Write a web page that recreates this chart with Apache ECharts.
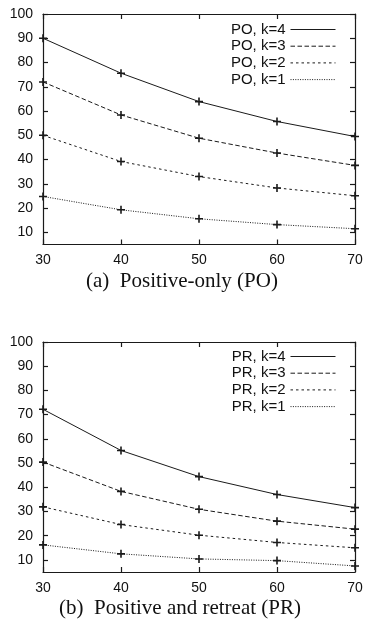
<!DOCTYPE html>
<html>
<head>
<meta charset="utf-8">
<script src="https://cdn.jsdelivr.net/npm/echarts@6/dist/echarts.min.js"></script>
<style>html,body{margin:0;padding:0;background:#fff;}#c{width:368px;height:624px;}</style>
</head>
<body>
<div id="c"></div>
<script>
const xValues = [30, 40, 50, 60, 70];
const yTicks = [10, 20, 30, 40, 50, 60, 70, 80, 90, 100];
const xTicks = [30, 40, 50, 60, 70];

const poNames = ['PO, k=4', 'PO, k=3', 'PO, k=2', 'PO, k=1'];
const poK4 = [90, 75.6, 63.9, 55.7, 49.5];
const poK3 = [72, 58.4, 48.8, 42.7, 37.6];
const poK2 = [50, 39.2, 33, 28.3, 25.1];
const poK1 = [24.8, 19.3, 15.6, 13.2, 11.5];

const prNames = ['PR, k=4', 'PR, k=3', 'PR, k=2', 'PR, k=1'];
const prK4 = [72.2, 55.2, 44.4, 37.0, 31.6];
const prK3 = [50.4, 38.3, 30.9, 26.0, 22.7];
const prK2 = [31.9, 24.6, 20.2, 17.2, 15.0];
const prK1 = [16.2, 12.5, 10.4, 9.7, 7.5];

const captions = ['(a)  Positive-only (PO)', '(b)  Positive and retreat (PR)'];

const dashes = ['solid', [4.5, 2.5], [2.5, 3], [1, 1.4]];
const plus = 'path://M4,0H6V4H10V6H6V10H4V6H0V4H4Z';
const ink = '#1a1a1a';

function pairs(vals) { return xValues.map((x, i) => [x, vals[i]]); }

const grids = [
  {left: 43, right: 13, top: 14, height: 230.5},
  {left: 43, right: 13, top: 342, height: 230}
];

function xAxisFor(gi, pos) {
  return {
    type: 'value', gridIndex: gi, position: pos, min: 30, max: 70, interval: 10,
    axisLine: {show: true, onZero: false, lineStyle: {color: ink, width: 1.2}},
    axisTick: {show: true, inside: true, length: 5, lineStyle: {color: ink, width: 1.2}, customValues: xTicks},
    axisLabel: {show: pos === 'bottom', margin: 9, color: '#111', fontFamily: 'Liberation Sans, Arial, sans-serif', fontSize: 14, customValues: xTicks},
    splitLine: {show: false}
  };
}
function yAxisFor(gi, pos) {
  return {
    type: 'value', gridIndex: gi, position: pos, min: 5, max: 100,
    axisLine: {show: true, onZero: false, lineStyle: {color: ink, width: 1.2}},
    axisTick: {show: true, inside: true, length: 5, lineStyle: {color: ink, width: 1.2}, customValues: yTicks},
    axisLabel: {show: pos === 'left', margin: 10, color: '#111', fontFamily: 'Liberation Sans, Arial, sans-serif', fontSize: 14, customValues: yTicks},
    splitLine: {show: false}
  };
}

function lineSeries(name, vals, idx, gi) {
  return {
    name: name, type: 'line', xAxisIndex: gi * 2, yAxisIndex: gi * 2,
    data: pairs(vals), smooth: false,
    symbol: plus, symbolSize: 8, showAllSymbol: true,
    itemStyle: {color: ink},
    lineStyle: {color: ink, width: 1, type: dashes[idx]},
    emphasis: {disabled: true}, animation: false, clip: false
  };
}

const series = [];
[poK4, poK3, poK2, poK1].forEach((v, i) => series.push(lineSeries(poNames[i], v, i, 0)));
[prK4, prK3, prK2, prK1].forEach((v, i) => series.push(lineSeries(prNames[i], v, i, 1)));

function legendFor(names, top) {
  return {
    data: names, orient: 'vertical', right: 32, top: top, align: 'right',
    itemWidth: 45, itemHeight: 14, itemGap: 1.7, padding: 0,
    itemStyle: {opacity: 0},
    lineStyle: {width: 1},
    textStyle: {fontFamily: 'Liberation Sans, Arial, sans-serif', fontSize: 15, lineHeight: 14, color: '#111', padding: [0, 0, 0, 0]},
    selectedMode: false
  };
}

const chart = echarts.init(document.getElementById('c'), null, {renderer: 'canvas'});
chart.setOption({
  animation: false,
  backgroundColor: '#fff',
  grid: grids,
  xAxis: [xAxisFor(0, 'bottom'), xAxisFor(0, 'top'), xAxisFor(1, 'bottom'), xAxisFor(1, 'top')],
  yAxis: [yAxisFor(0, 'left'), yAxisFor(0, 'right'), yAxisFor(1, 'left'), yAxisFor(1, 'right')],
  legend: [legendFor(poNames, 22), legendFor(prNames, 349)],
  title: [
    {text: captions[0], left: 177, top: 266, textAlign: 'center', textStyle: {fontFamily: 'Liberation Serif, Times New Roman, serif', fontSize: 21, fontWeight: 'normal', color: '#111'}},
    {text: captions[1], left: 175, top: 593, textAlign: 'center', textStyle: {fontFamily: 'Liberation Serif, Times New Roman, serif', fontSize: 21, fontWeight: 'normal', color: '#111'}}
  ],
  series: series
});
</script>
</body>
</html>
